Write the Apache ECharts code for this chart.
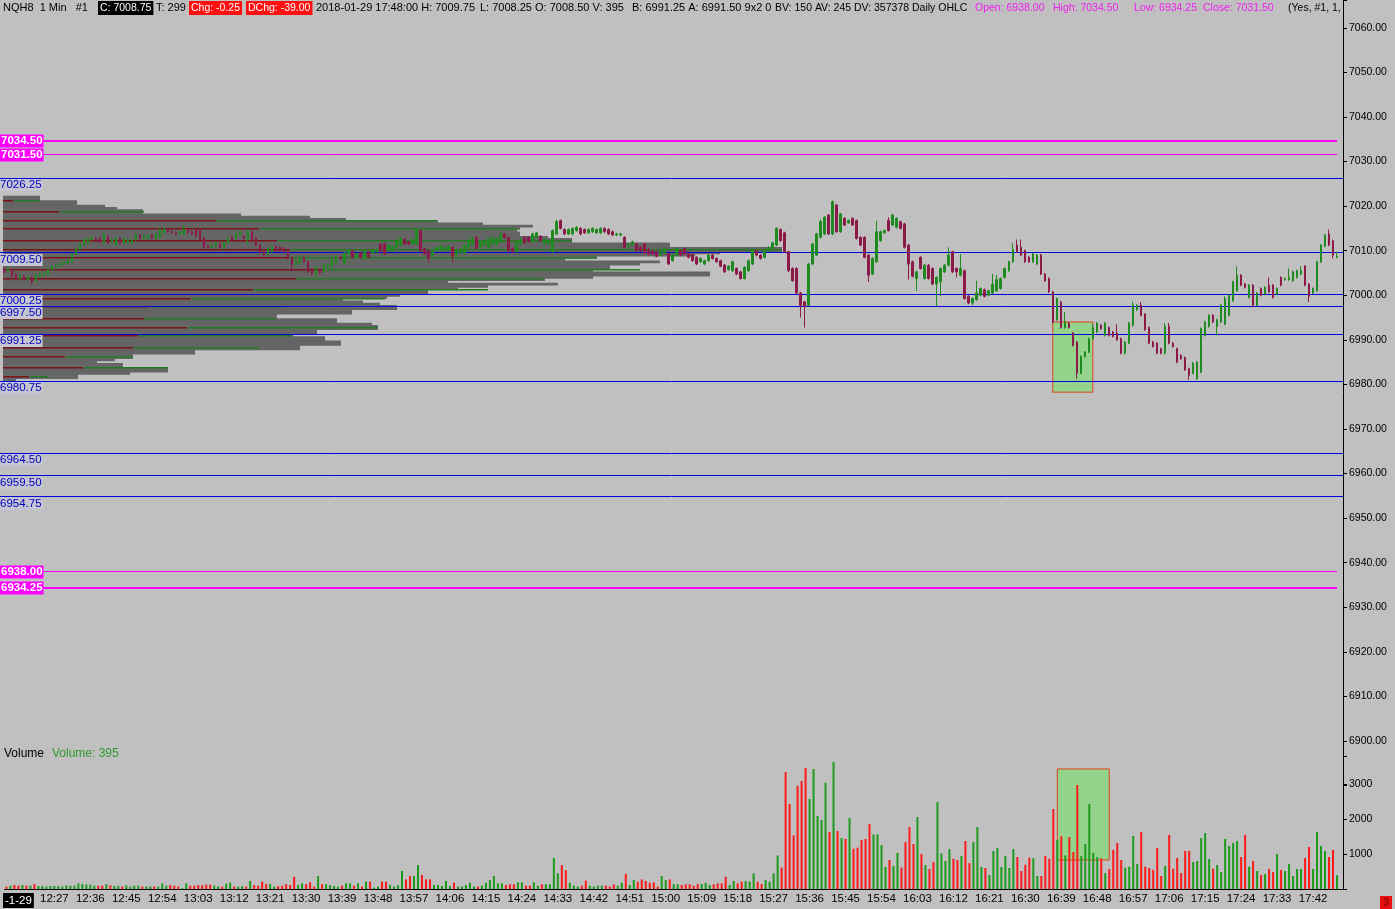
<!DOCTYPE html>
<html><head><meta charset="utf-8">
<script src="https://cdn.jsdelivr.net/npm/echarts@6/dist/echarts.min.js"></script>
<style>html,body{margin:0;padding:0;background:#c0c0c0;}#c{width:1395px;height:909px;}</style>
</head><body><div id="c"></div>
<script>
// ---------- DATA ----------
// one-minute bars from 12:15 to 17:48 (plus one empty slot)
const startMinute = 12 * 60 + 15, endMinute = 17 * 60 + 49;
const times = [];
for (let m = startMinute; m <= endMinute; m++) times.push(Math.floor(m / 60) + ':' + String(m % 60).padStart(2, '0'));

// [open, close, low, high]
const candles = [
[7006.0,7005.25,7005.0,7006.25],[7005.5,7006.0,7005.25,7006.25],[7005.75,7004.25,7004.0,7006.0],[7004.75,7003.75,7003.5,7005.0],[7003.75,7004.5,7003.5,7004.75],
[7004.25,7003.75,7003.5,7004.5],[7003.5,7004.25,7003.25,7004.5],[7004.0,7003.0,7002.5,7004.25],[7003.25,7004.5,7003.0,7004.75],[7004.25,7004.75,7004.0,7005.0],
[7004.5,7005.0,7004.25,7005.25],[7004.75,7005.75,7004.5,7006.0],[7005.75,7006.5,7005.5,7006.75],[7006.25,7006.75,7006.0,7007.0],[7006.5,7007.25,7006.25,7007.5],
[7007.0,7007.5,7006.75,7007.75],[7007.25,7008.0,7007.0,7008.25],[7007.5,7009.25,7007.25,7009.5],[7009.25,7010.5,7009.0,7010.75],[7010.25,7011.5,7010.0,7011.75],
[7011.25,7012.5,7011.0,7012.75],[7011.5,7012.75,7011.5,7013.0],[7012.5,7013.0,7012.25,7013.25],[7012.75,7012.25,7012.0,7013.0],[7012.75,7012.0,7011.75,7013.0],
[7011.75,7013.75,7011.5,7014.0],[7013.25,7011.75,7011.5,7013.5],[7012.0,7012.5,7011.75,7012.75],[7011.25,7012.75,7011.0,7013.0],[7012.75,7011.75,7011.5,7013.0],
[7011.75,7012.75,7011.5,7013.0],[7011.75,7012.5,7011.5,7012.75],[7011.75,7012.25,7011.5,7012.5],[7012.5,7013.75,7012.25,7014.0],[7013.5,7012.75,7012.5,7013.75],
[7012.75,7013.25,7012.5,7013.5],[7012.75,7013.5,7012.5,7013.75],[7013.5,7012.75,7012.5,7013.75],[7012.75,7013.75,7012.5,7014.0],[7013.0,7014.75,7012.75,7015.0],
[7014.0,7015.0,7013.75,7015.25],[7014.75,7014.25,7014.0,7015.0],[7014.25,7014.0,7013.75,7014.5],[7014.0,7013.75,7013.5,7014.25],[7013.75,7014.25,7013.5,7014.5],
[7013.75,7014.75,7013.5,7015.75],[7014.5,7014.0,7013.75,7014.75],[7014.25,7013.75,7013.5,7014.5],[7014.75,7013.25,7013.0,7015.0],[7014.5,7012.5,7012.25,7014.75],
[7012.75,7010.75,7010.5,7013.0],[7011.0,7010.5,7010.25,7011.25],[7010.75,7011.25,7010.5,7011.5],[7011.0,7011.75,7010.75,7012.0],[7011.5,7010.75,7010.5,7011.75],
[7010.5,7011.75,7010.25,7012.0],[7011.75,7012.75,7011.5,7013.0],[7013.0,7012.5,7012.25,7013.25],[7012.75,7013.75,7012.5,7014.0],[7013.5,7014.25,7013.25,7014.5],
[7013.25,7012.75,7012.5,7013.5],[7012.5,7014.5,7011.25,7014.75],[7014.25,7012.25,7012.0,7014.5],[7012.75,7011.25,7011.0,7013.0],[7011.25,7009.5,7009.25,7011.5],
[7010.0,7009.0,7008.75,7010.25],[7009.25,7010.5,7009.0,7010.75],[7009.75,7011.0,7009.5,7011.25],[7011.0,7010.0,7009.75,7011.25],[7010.75,7010.0,7009.75,7011.0],
[7010.5,7009.75,7009.5,7010.75],[7009.75,7008.25,7008.0,7010.0],[7008.5,7007.0,7005.25,7008.75],[7006.75,7007.75,7006.5,7008.0],[7007.25,7008.5,7007.0,7008.75],
[7008.5,7007.5,7007.25,7008.75],[7007.5,7005.25,7005.0,7007.75],[7005.75,7004.75,7004.5,7006.0],[7004.75,7006.25,7003.75,7006.5],[7005.75,7005.0,7004.75,7006.0],
[7005.25,7006.75,7005.0,7007.0],[7006.25,7007.0,7006.0,7007.25],[7006.25,7008.0,7006.0,7008.25],[7007.25,7008.5,7007.0,7008.75],[7008.5,7008.25,7008.0,7008.75],
[7007.25,7009.5,7007.0,7009.75],[7009.25,7010.0,7009.0,7010.25],[7010.0,7008.5,7008.25,7010.25],[7008.5,7009.25,7008.25,7009.5],[7009.5,7008.5,7008.25,7009.75],
[7008.25,7010.0,7008.0,7010.25],[7009.75,7008.5,7008.25,7010.0],[7009.5,7010.0,7009.25,7010.25],[7009.75,7010.25,7009.5,7010.5],[7011.5,7010.0,7009.75,7011.75],
[7011.5,7009.25,7009.0,7011.75],[7010.0,7011.25,7009.75,7011.5],[7010.0,7011.0,7009.75,7011.25],[7010.75,7012.25,7010.5,7012.5],[7011.25,7012.75,7011.0,7013.0],
[7012.5,7011.5,7011.25,7012.75],[7012.0,7011.5,7011.25,7012.25],[7011.5,7012.5,7011.25,7012.75],[7011.5,7014.75,7011.25,7015.0],[7014.5,7010.0,7009.75,7014.75],
[7010.5,7009.25,7009.0,7010.75],[7010.0,7008.25,7007.25,7010.25],[7009.0,7009.75,7008.75,7010.0],[7010.0,7010.75,7009.75,7011.0],[7010.25,7011.25,7010.0,7011.5],
[7010.0,7010.75,7009.75,7011.0],[7010.25,7011.0,7010.0,7011.25],[7010.75,7008.75,7007.5,7011.0],[7009.0,7010.0,7008.75,7010.25],[7009.5,7010.25,7009.25,7010.5],
[7009.5,7011.25,7009.25,7011.5],[7010.75,7012.25,7010.5,7013.25],[7011.25,7012.75,7011.0,7013.0],[7013.0,7010.5,7010.25,7013.25],[7010.75,7012.0,7010.5,7012.25],
[7011.25,7012.0,7011.0,7012.25],[7010.75,7012.75,7010.5,7013.0],[7011.5,7013.0,7011.25,7013.25],[7011.25,7012.75,7011.0,7013.0],[7012.0,7013.75,7011.75,7014.0],
[7013.75,7013.0,7012.75,7014.0],[7013.0,7010.0,7009.75,7013.25],[7010.5,7009.75,7009.5,7010.75],[7009.75,7012.0,7009.5,7012.25],[7011.5,7012.5,7011.25,7012.75],
[7013.0,7011.75,7011.5,7013.25],[7013.0,7012.0,7011.75,7013.25],[7012.25,7013.75,7012.0,7014.0],[7013.0,7014.0,7012.75,7014.25],[7013.25,7012.25,7012.0,7013.5],
[7011.5,7012.5,7011.25,7012.75],[7011.5,7012.25,7011.25,7012.5],[7009.75,7014.5,7009.5,7014.75],[7013.75,7016.5,7013.5,7017.0],[7016.75,7015.0,7014.75,7017.0],
[7014.75,7013.75,7013.5,7015.0],[7013.75,7014.75,7013.5,7015.0],[7013.75,7015.0,7013.5,7015.25],[7014.5,7015.25,7014.25,7015.5],[7015.0,7013.75,7013.5,7015.25],
[7014.75,7014.0,7013.75,7015.0],[7014.0,7014.75,7013.75,7015.0],[7014.25,7015.0,7014.0,7015.25],[7014.0,7014.75,7013.75,7015.0],[7014.0,7015.0,7013.75,7015.25],
[7015.0,7014.25,7014.0,7015.25],[7014.75,7013.75,7013.5,7015.0],[7014.25,7013.5,7013.25,7014.5],[7013.5,7013.75,7013.25,7014.0],[7013.5,7013.75,7013.25,7014.0],
[7013.0,7010.75,7010.5,7013.25],[7011.0,7011.5,7010.75,7011.75],[7011.5,7012.0,7011.25,7012.25],[7011.5,7010.0,7009.75,7011.75],[7010.75,7010.0,7009.75,7011.0],
[7011.5,7009.5,7009.25,7011.75],[7010.25,7009.25,7009.0,7010.5],[7010.0,7009.25,7009.0,7010.25],[7009.75,7008.75,7008.5,7010.0],[7009.0,7009.75,7008.75,7010.0],
[7009.5,7010.5,7009.25,7010.75],[7009.25,7007.0,7006.75,7009.5],[7007.75,7009.0,7007.5,7009.25],[7009.0,7010.5,7008.75,7010.75],[7010.0,7009.0,7008.75,7010.25],
[7010.5,7009.25,7009.0,7010.75],[7009.25,7008.5,7008.25,7009.5],[7009.0,7007.75,7007.5,7009.25],[7008.5,7007.0,7006.75,7008.75],[7007.5,7008.25,7007.25,7008.5],
[7007.0,7007.75,7006.75,7008.0],[7007.75,7009.0,7007.5,7009.25],[7009.0,7008.25,7008.0,7009.25],[7008.25,7007.5,7007.25,7008.5],[7007.75,7006.5,7006.25,7008.0],
[7006.75,7005.25,7005.0,7007.0],[7005.75,7006.5,7005.5,7006.75],[7005.5,7007.5,7005.25,7007.75],[7006.0,7004.75,7004.5,7006.25],[7005.25,7003.75,7003.5,7005.5],
[7003.75,7006.25,7003.5,7006.5],[7005.5,7007.75,7005.25,7008.0],[7007.0,7010.0,7006.75,7010.25],[7010.0,7009.0,7008.75,7010.25],[7009.0,7008.25,7008.0,7009.25],
[7008.5,7010.0,7008.25,7010.25],[7010.0,7010.75,7009.75,7011.0],[7010.5,7011.75,7010.25,7012.0],[7011.25,7015.0,7011.0,7015.25],[7014.75,7012.25,7012.0,7015.0],
[7014.0,7009.75,7009.5,7014.25],[7009.75,7005.5,7005.25,7010.0],[7006.0,7003.25,7003.0,7006.25],[7006.0,7000.5,7000.25,7006.25],[7000.5,6997.75,6995.0,7000.75],
[6998.5,6997.5,6992.75,6998.75],[6997.75,7007.0,6997.5,7007.25],[7007.0,7011.5,7006.75,7011.75],[7009.0,7013.75,7008.75,7014.0],[7013.0,7016.5,7012.75,7017.0],
[7013.75,7017.5,7013.5,7017.75],[7018.0,7013.75,7013.5,7018.25],[7013.75,7021.0,7013.5,7021.25],[7020.25,7014.25,7014.0,7020.5],[7014.25,7018.25,7014.0,7018.5],
[7017.25,7015.75,7015.5,7017.5],[7016.25,7016.75,7016.0,7017.0],[7017.25,7015.75,7015.5,7017.5],[7016.75,7012.75,7012.5,7017.0],[7013.0,7011.25,7011.0,7013.25],
[7013.0,7008.5,7008.25,7013.25],[7009.0,7004.5,7003.0,7009.25],[7004.75,7008.25,7004.5,7008.5],[7007.5,7014.25,7007.25,7016.75],[7012.25,7014.25,7012.0,7014.5],
[7014.0,7014.5,7013.75,7014.75],[7016.75,7014.5,7014.25,7017.5],[7015.75,7018.0,7015.5,7018.25],[7015.25,7017.25,7015.0,7017.5],[7016.5,7015.0,7014.75,7016.75],
[7016.0,7010.75,7010.5,7016.25],[7011.25,7007.0,7003.5,7011.5],[7007.5,7004.25,7004.0,7007.75],[7003.75,7005.25,7001.0,7005.5],[7008.5,7006.0,7005.75,7008.75],
[7003.75,7006.75,7003.5,7007.0],[7006.75,7003.75,7003.5,7007.0],[7006.0,7002.5,7002.25,7006.25],[7002.5,7004.0,6997.5,7004.25],[7003.0,7006.0,6999.75,7006.25],
[7005.25,7006.75,7005.0,7007.0],[7006.75,7009.0,7006.5,7010.75],[7009.75,7005.25,7005.0,7010.0],[7006.0,7005.25,7004.0,7006.25],[7004.5,7006.0,7004.25,7009.25],
[7005.5,6999.25,6999.0,7005.75],[6999.75,6998.25,6998.0,7000.0],[6998.25,6999.25,6997.75,6999.5],[6999.0,7000.5,6998.75,7003.25],[7000.0,7001.5,6999.75,7001.75],
[7001.25,6999.75,6999.5,7001.5],[7000.0,7001.0,6999.75,7001.25],[7000.5,7002.5,7000.25,7004.75],[7001.0,7003.5,7000.75,7004.5],[7001.5,7003.75,7001.25,7004.0],
[7004.0,7006.0,7003.75,7006.25],[7005.5,7007.5,7005.25,7007.75],[7007.5,7010.25,7007.25,7011.75],[7011.25,7009.75,7009.5,7012.5],[7010.75,7009.0,7008.75,7012.5],
[7010.0,7007.5,7007.25,7010.25],[7008.5,7007.5,7007.25,7008.75],[7007.5,7009.25,7007.25,7009.5],[7007.0,7009.0,7006.75,7009.25],[7009.0,7004.75,7004.5,7009.25],
[7004.75,7003.25,7003.0,7005.0],[7003.75,7000.75,7000.5,7004.0],[7000.75,6994.0,6993.75,7001.0],[6994.5,6999.25,6994.25,6999.5],[6998.5,6992.75,6992.5,6998.75],
[6992.75,6994.0,6992.5,6996.25],[6993.75,6992.75,6992.5,6994.0],[6991.5,6988.75,6988.5,6991.75],[6989.5,6982.5,6981.25,6989.75],[6982.5,6986.25,6982.25,6986.5],
[6986.25,6987.25,6986.0,6987.5],[6987.25,6990.25,6987.0,6990.5],[6990.25,6992.75,6990.0,6993.5],[6991.75,6993.75,6991.5,6994.0],[6993.25,6992.5,6992.25,6993.5],
[6991.0,6993.75,6990.75,6994.0],[6992.75,6991.0,6990.75,6993.0],[6991.75,6990.75,6990.5,6992.0],[6991.5,6990.0,6989.75,6993.5],[6990.25,6987.0,6986.75,6990.5],
[6987.0,6989.5,6986.75,6989.75],[6989.25,6993.75,6989.0,6994.0],[6993.25,6997.75,6993.0,6998.5],[6996.75,6997.75,6996.5,6998.0],[6997.75,6995.5,6995.25,6998.5],
[6995.75,6992.25,6992.0,6996.0],[6992.75,6989.25,6989.0,6993.0],[6989.5,6988.5,6988.25,6989.75],[6989.25,6987.0,6986.75,6989.5],[6988.0,6987.0,6986.75,6988.25],
[6987.0,6993.0,6986.75,6993.75],[6993.0,6989.25,6989.0,6993.75],[6989.25,6988.5,6988.25,6989.5],[6988.0,6985.0,6984.75,6988.25],[6986.5,6985.75,6985.5,6986.75],
[6986.0,6983.25,6983.0,6986.25],[6983.5,6982.0,6981.0,6983.75],[6982.5,6984.75,6982.25,6985.0],[6981.25,6985.0,6981.0,6985.25],[6982.75,6992.5,6982.5,6992.75],
[6991.0,6994.0,6990.75,6994.25],[6993.0,6995.5,6992.75,6995.75],[6995.5,6994.0,6993.75,6995.75],[6993.0,6994.5,6991.0,6994.75],[6994.0,6997.75,6993.75,6998.0],
[6993.5,6999.25,6993.25,6999.75],[6995.5,7000.0,6995.25,7000.25],[6998.75,7003.0,6998.5,7003.25],[7001.0,7004.5,7000.75,7006.5],[7004.5,7002.25,7002.0,7004.75],
[7002.5,7001.75,7001.5,7002.75],[6999.5,7002.25,6999.25,7002.5],[7002.25,6997.75,6997.25,7002.5],[6997.75,7000.5,6997.5,7000.75],[7001.5,7000.0,6999.75,7001.75],
[7000.25,7001.75,7000.0,7002.0],[7002.25,7000.75,7000.5,7004.0],[7002.25,6999.5,6999.25,7002.5],[7000.25,7001.5,7000.0,7001.75],[7004.0,7002.25,7002.0,7004.25],
[7003.5,7003.75,7003.25,7004.0],[7003.5,7004.0,7003.25,7006.0],[7003.25,7005.25,7003.0,7005.5],[7004.0,7005.5,7003.75,7005.75],[7004.75,7005.5,7004.5,7006.5],
[7006.5,7002.25,7002.0,7006.75],[7002.5,6999.75,6998.5,7002.75],[7000.5,7001.5,7000.25,7001.75],[7001.0,7007.5,7000.75,7007.75],[7007.5,7011.25,7007.25,7011.5],
[7011.0,7013.5,7010.75,7013.75],[7013.75,7011.25,7011.0,7014.75],[7012.25,7009.0,7008.25,7012.5],[7008.5,7008.75,7008.25,7009.75]
];

const volumes = [
70,95,115,95,115,95,95,140,85,85, 70,85,85,85,70,105,95,95,160,140,
125,125,95,95,95,140,105,85,95,70, 105,70,95,95,70,70,70,70,70,160,
95,115,95,70,20,160,95,95,115,105, 125,125,95,75,70,150,180,70,70,85,
70,230,115,95,210,140,140,70,85,95, 140,115,350,115,160,140,190,70,370,135,
140,115,85,70,95,160,160,95,160,70, 210,210,40,70,210,210,115,70,105,515,
275,370,370,685,400,275,275,115,115,85, 230,85,180,70,70,115,180,70,70,95,
180,255,370,160,160,115,135,135,190,190, 95,95,190,95,135,135,135,885,450,685,
540,180,95,70,95,240,95,70,95,95, 95,70,135,95,180,430,115,255,210,275,
230,180,190,70,370,255,275,140,135,115, 135,135,
95,140,140,180,115,135,160,160,350,115, 230,160,210,230,210,450,210,140,255,210,
450,960,610,3340,2430,1530,2950,3085,3455,2570, 3430,2085,1970,3035,1630,3630,1655,1455,1430,2030,
1150,1180,1400,1430,1855,1560,1560,1255,630,830, 655,1030,610,1340,1770,1285,2055,1000,685,570,
770,2485,1020,800,1140,865,830,940,1370,740, 1340,1770,630,600,400,1085,1170,630,940,600,
1140,915,515,695,895,885,370,370,940,865, 2285,1400,1505,960,1485,1055,2970,940,1285,2430,
1030,915,875,455,570,1115,1315,830,610,640, 1515,715,1630,640,600,545,1170,370,655,1545,
580,885,455,1085,1085,770,800,1455,1600,855, 580,685,485,1430,1230,1315,1370,915,1545,640,
800,515,400,430,570,485,1000,545,515,715, 370,570,570,885,1200,570,1630,1230,1085,915,
1115,395
];

// volume profile: row price (0.5 pt rows) and row volume
const profilePrices = [7022.0,7021.5,7021.0,7020.5,7020.0,7019.5,7019.0,7018.5,7018.0,7017.5,7017.0,7016.5,7016.0,7015.5,7015.0,7014.5,7014.0,7013.5,7013.0,7012.5,7012.0,7011.5,7011.0,7010.5,7010.0,7009.5,7009.0,7008.5,7008.0,7007.5,7007.0,7006.5,7006.0,7005.5,7005.0,7004.5,7004.0,7003.5,7003.0,7002.5,7002.0,7001.5,7001.0,7000.5,7000.0,6999.5,6999.0,6998.5,6998.0,6997.5,6997.0,6996.5,6996.0,6995.5,6995.0,6994.5,6994.0,6993.5,6993.0,6992.5,6992.0,6991.5,6991.0,6990.5,6990.0,6989.5,6989.0,6988.5,6988.0,6987.5,6987.0,6986.5,6986.0,6985.5,6985.0,6984.5,6984.0,6983.5,6983.0,6982.5,6982.0,6981.5,6981.0];
const profileVolumes = [370,370,740,740,1020,1140,1400,1400,2380,3070,3430,4350,4800,5300,5170,5140,5170,5170,5450,5690,5690,6670,6670,7790,7790,7170,6920,5940,5620,6570,6370,6070,6070,5900,7070,7070,5900,5420,4450,5550,4850,4550,4250,4250,3970,3840,3400,3600,3770,3940,3940,3490,3490,2740,2740,3340,3340,3690,3750,3750,3140,3140,2900,3220,3220,3380,3380,2970,2970,1920,1920,1300,1300,1120,940,1200,1200,1650,1650,1270,750,750,130];
// bid / ask split lines inside the profile
const splitPrices = [7021.25,7018.75,7016.75,7014.75,7012.25,7010.25,7008.25,7005.75,7003.75,7001.25,6999.25,6997.25,6994.75,6992.75,6990.75,6988.25,6986.25,6983.75,6981.75];
const bidVolumes  = [100,560,2130,2560,2740,2870,2840,3220,2930,2500,1880,1470,1410,1840,1350,1300,620,800,260];
const askVolumes  = [260,850,2210,2590,2950,4920,3100,3150,2470,2350,1940,1340,1320,1910,1550,1260,680,850,200];

// horizontal levels
const blueLevels = [7026.25,7009.50,7000.25,6997.50,6991.25,6980.75,6964.50,6959.50,6954.75];
const magentaLevels = [7034.50,7031.50,6938.00,6934.25];
const magentaWidths = [2,1,1,2];
const lastPrice = 7008.75;
const priceTicks = {min: 6890, max: 7066.24, step: 10};
const volumeTicks = {min: 0, max: 3800, step: 1000};

// ---------- STYLE ----------
const SANS = "'Liberation Sans',Arial,sans-serif";
const UP = '#1f8a1f', DOWN = '#8c1a48', VUP = '#1c9a1c', VDOWN = '#ff1a1a';
const labelInt = (i) => i >= 3 && (i - 3) % 9 === 0;
const HF = '11px ' + SANS, HFS = '10.5px ' + SANS, MF = '10.5px ' + SANS;

const chart = echarts.init(document.getElementById('c'), null, {renderer: 'canvas'});

// level rows: [price, kind (0 blue / 1 magenta), line width]
const levelRows = blueLevels.map(p => [p, 0, 1]).concat(magentaLevels.map((p, k) => [p, 1, magentaWidths[k]]));

const option = {
  animation: false,
  backgroundColor: '#c0c0c0',
  grid: [
    {left: 2, right: 52, top: 0, bottom: 123.5},
    {left: 2, right: 52, top: 756, bottom: 20}
  ],
  xAxis: [
    {type: 'category', gridIndex: 0, data: times, show: false},
    {type: 'category', gridIndex: 1, data: times,
      axisLine: {onZero: false, lineStyle: {color: '#000', width: 1}},
      axisTick: {alignWithLabel: true, interval: labelInt, length: 4, lineStyle: {color: '#000'}},
      axisLabel: {interval: labelInt, color: '#000', fontFamily: SANS, fontSize: 11.5, margin: 4,
        formatter: v => v === '12:18' ? '{d|-1-29}' : v,
        rich: {d: {backgroundColor: '#000', color: '#fff', fontFamily: SANS, fontSize: 11.5, padding: [2, 2, 1, 2]}}}
    },
    {type: 'value', gridIndex: 0, min: 0, max: 13410, show: false}
  ],
  yAxis: [
    {type: 'value', gridIndex: 0, position: 'right', min: priceTicks.min, max: priceTicks.max, interval: priceTicks.step,
      axisLine: {show: true, onZero: false, lineStyle: {color: '#000'}},
      axisTick: {show: true, length: 4, lineStyle: {color: '#000'}},
      splitLine: {show: false},
      axisLabel: {color: '#000', fontFamily: SANS, fontSize: 10.5, margin: 6,
        formatter: v => (v >= 6900 && v <= 7060 && Math.abs(v % 10) < 1e-6) ? v.toFixed(2) : ''}},
    {type: 'value', gridIndex: 1, position: 'right', min: volumeTicks.min, max: volumeTicks.max, interval: volumeTicks.step,
      axisLine: {show: true, onZero: false, lineStyle: {color: '#000'}},
      axisTick: {show: true, length: 4, lineStyle: {color: '#000'}},
      splitLine: {show: false},
      axisLabel: {color: '#000', fontFamily: SANS, fontSize: 10.5, margin: 6,
        formatter: v => (v > 0 && v <= 3000 && v % 1000 === 0) ? String(v) : ''}}
  ],
  series: [
    {
      type: 'custom', name: 'profile', xAxisIndex: 2, yAxisIndex: 0, z: 1, silent: true,
      data: profilePrices.map((p, i) => [p, profileVolumes[i]]),
      encode: {x: 1, y: 0},
      renderItem: (params, api) => {
        const p = api.value(0), v = api.value(1);
        const a = api.coord([0, p + 0.25]);
        const b = api.coord([v, p - 0.25]);
        return {type: 'rect', shape: {x: a[0] + 1, y: a[1] - 0.3, width: b[0] - a[0], height: b[1] - a[1] + 0.6},
          style: {fill: '#656565'}};
      }
    },
    {
      type: 'custom', name: 'split', xAxisIndex: 2, yAxisIndex: 0, z: 1, silent: true,
      data: splitPrices.map((p, i) => [p, bidVolumes[i], askVolumes[i]]),
      encode: {x: 1, y: 0},
      renderItem: (params, api) => {
        const p = api.value(0), bid = api.value(1), ask = api.value(2);
        const a = api.coord([0, p]);
        const b = api.coord([bid, p]);
        const c = api.coord([bid + ask, p]);
        const y = Math.round(a[1]) - 1;
        return {type: 'group', children: [
          {type: 'rect', shape: {x: a[0] + 1, y: y, width: b[0] - a[0], height: 1.5}, style: {fill: '#7a1418'}},
          {type: 'rect', shape: {x: b[0] + 2, y: y, width: c[0] - b[0] - 1, height: 1.5}, style: {fill: '#247a24'}}
        ]};
      }
    },
    {
      type: 'custom', name: 'levels', xAxisIndex: 2, yAxisIndex: 0, z: 2, silent: true,
      data: levelRows, encode: {y: 0},
      renderItem: (params, api) => {
        const p = api.value(0), kind = api.value(1), w = api.value(2);
        const yy = api.coord([0, p])[1];
        const y = (w % 2 === 1) ? Math.round(yy - 0.5) + 0.5 : Math.round(yy);
        const color = kind === 0 ? '#0000e0' : '#ff00ff';
        const xEnd = kind === 0 ? 1343 : 1337;
        const label = kind === 0
          ? {type: 'text', x: 0, y: Math.round(yy) + 1, style: {text: p.toFixed(2), fill: '#0000c0', font: '11.5px ' + SANS,
              verticalAlign: 'top', backgroundColor: '#c6c6d2', padding: [0, 1, 0, 0]}}
          : {type: 'text', x: 0, y: Math.round(yy), style: {text: p.toFixed(2), fill: '#ffffff', font: 'bold 11.5px ' + SANS,
              verticalAlign: 'middle', backgroundColor: '#ff00ff', padding: [1, 1, 0, 1]}};
        return {type: 'group', children: [
          {type: 'line', shape: {x1: 0, y1: y, x2: xEnd, y2: y}, style: {stroke: color, lineWidth: w}},
          label
        ]};
      }
    },
    {
      type: 'candlestick', name: 'NQH8', xAxisIndex: 0, yAxisIndex: 0, z: 3, barWidth: 2,
      data: candles,
      itemStyle: {color: UP, color0: DOWN, borderColor: UP, borderColor0: DOWN, borderWidth: 1},
      markLine: {silent: true, symbol: ['none', 'none'], animation: false, data: [{
        yAxis: lastPrice, lineStyle: {opacity: 0},
        label: {show: true, position: 'end', formatter: lastPrice.toFixed(2), color: '#ffffff', backgroundColor: '#000000',
          fontFamily: SANS, fontSize: 10, fontWeight: 'bold', distance: 4, padding: [2, 2, 1, 2]}
      }]},
      markArea: {silent: true, itemStyle: {color: '#93d38b', borderColor: '#e0401c', borderWidth: 1},
        data: [[{xAxis: '16:37', yAxis: 6994.0}, {xAxis: '16:47', yAxis: 6978.25}]]}
    },
    {
      type: 'line', name: 'volBox', xAxisIndex: 1, yAxisIndex: 1, z: 1, data: [], silent: true,
      markArea: {silent: true, itemStyle: {color: '#93d38b', borderColor: '#e0401c', borderWidth: 1},
        data: [[{xAxis: '16:38', yAxis: 3430}, {xAxis: '16:51', yAxis: 830}]]}
    },
    {
      type: 'bar', name: 'Volume', xAxisIndex: 1, yAxisIndex: 1, barWidth: 2, z: 3,
      data: volumes.map((v, i) => ({value: v, itemStyle: {color: candles[i][1] >= candles[i][0] ? VUP : VDOWN}}))
    }
  ],
  graphic: [
    {type: 'text', x: 3, y: 8, style: {text: 'NQH8  1 Min   #1', fill: '#000', font: HF, verticalAlign: 'middle'}},
    {type: 'text', x: 98, y: 8, style: {text: 'C: 7008.75', fill: '#fff', font: HFS, verticalAlign: 'middle', backgroundColor: '#000', padding: [2, 2, 1, 2]}},
    {type: 'text', x: 156, y: 8, style: {text: 'T: 299', fill: '#000', font: HF, verticalAlign: 'middle'}},
    {type: 'text', x: 189, y: 8, style: {text: 'Chg: -0.25', fill: '#fff', font: HFS, verticalAlign: 'middle', backgroundColor: '#ff1010', padding: [2, 2, 1, 2]}},
    {type: 'text', x: 246, y: 8, style: {text: 'DChg: -39.00', fill: '#fff', font: HFS, verticalAlign: 'middle', backgroundColor: '#ff1010', padding: [2, 2, 1, 2]}},
    {type: 'text', x: 316, y: 8, style: {text: '2018-01-29 17:48:00 H: 7009.75', fill: '#000', font: HF, verticalAlign: 'middle'}},
    {type: 'text', x: 480, y: 8, style: {text: 'L: 7008.25 O: 7008.50 V: 395', fill: '#000', font: HF, verticalAlign: 'middle'}},
    {type: 'text', x: 632, y: 8, style: {text: 'B: 6991.25 A: 6991.50 9x2 0', fill: '#000', font: HF, verticalAlign: 'middle'}},
    {type: 'text', x: 775, y: 8, style: {text: 'BV: 150 AV: 245 DV: 357378 Daily OHLC', fill: '#000', font: HFS, verticalAlign: 'middle'}},
    {type: 'text', x: 975, y: 8, style: {text: 'Open: 6938.00', fill: '#f020f0', font: MF, verticalAlign: 'middle'}},
    {type: 'text', x: 1053, y: 8, style: {text: 'High: 7034.50', fill: '#f020f0', font: MF, verticalAlign: 'middle'}},
    {type: 'text', x: 1134, y: 8, style: {text: 'Low: 6934.25', fill: '#f020f0', font: MF, verticalAlign: 'middle'}},
    {type: 'text', x: 1203, y: 8, style: {text: 'Close: 7031.50', fill: '#f020f0', font: MF, verticalAlign: 'middle'}},
    {type: 'text', x: 1288, y: 8, style: {text: '(Yes, #1, 1,', fill: '#000', font: HFS, verticalAlign: 'middle'}},
    {type: 'text', x: 4, y: 754, style: {text: 'Volume', fill: '#000', font: '12px ' + SANS, verticalAlign: 'middle'}},
    {type: 'text', x: 52, y: 754, style: {text: 'Volume: 395', fill: '#2e9a2e', font: '12px ' + SANS, verticalAlign: 'middle'}},
    {type: 'rect', shape: {x: 1380, y: 896, width: 12, height: 13}, style: {fill: '#e81010'}},
    {type: 'text', x: 1386, y: 903, style: {text: '3', fill: '#600', font: '10px ' + SANS, align: 'center', verticalAlign: 'middle'}}
  ]
};
chart.setOption(option);
</script></body></html>
